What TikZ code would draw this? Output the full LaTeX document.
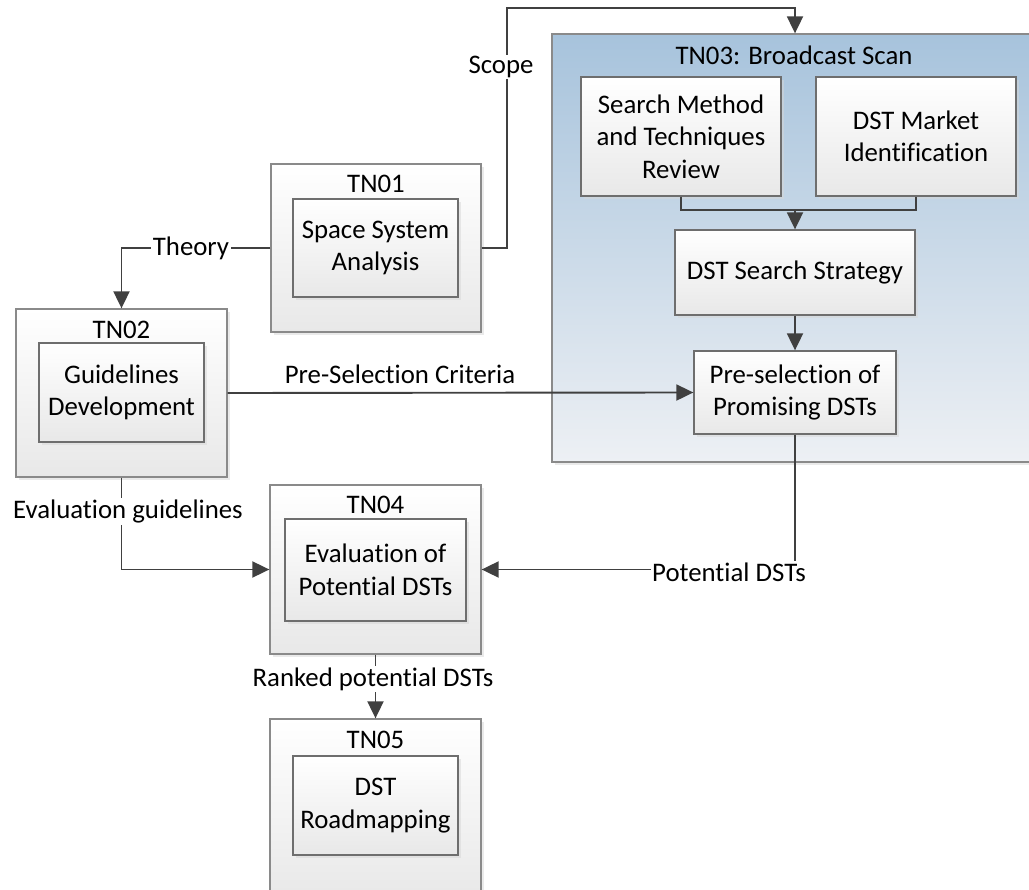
\documentclass[tikz,border=0pt]{standalone}
\usepackage{fontspec}
\setmainfont{Carlito}[Ligatures={NoCommon}]
\usetikzlibrary{arrows.meta,shadows}
\definecolor{lnc}{HTML}{404040}
\definecolor{bdr}{HTML}{8A8A8A}
\definecolor{ibdr}{HTML}{6E6E6E}
\definecolor{bluetop}{HTML}{A7C3DC}
\definecolor{bluebot}{HTML}{EDF0F4}
\begin{document}
\begin{tikzpicture}[x=1pt,y=-1pt,
  font=\fontsize{26.8}{32.5}\selectfont,
  shbox/.style={inner sep=0pt, align=center, top color=white, bottom color=black!9,
    drop shadow={shadow xshift=3pt,shadow yshift=-3pt,fill=black!16}},
  outerbox/.style={shbox, draw=bdr, line width=1.3pt},
  innerbox/.style={shbox, draw=ibdr, line width=1.3pt},
  container/.style={draw=bdr, line width=1.3pt, top color=bluetop, bottom color=bluebot, inner sep=0pt,
    drop shadow={shadow xshift=3pt,shadow yshift=-3pt,fill=black!16}},
  ttl/.style={inner sep=0pt},
  conn/.style={draw=lnc, line width=1.9pt},
  arr/.style={conn, -{Triangle[length=17pt,width=16pt]}},
  lbl/.style={fill=white, inner sep=1.5pt}]
\useasboundingbox (0,0) rectangle (1029,890);
\clip (0,0) rectangle (1029,890);

% TN03 container
\node[container, minimum width=490pt, minimum height=428pt] (tn03) at (797,248) {};
\node[ttl] (tn03t) at (794,55) {TN03: Broadcast Scan};
\node[innerbox, minimum width=200pt, minimum height=119pt] (search) at (681,136.5) {Search Method\\and Techniques\\Review};
\node[innerbox, minimum width=200pt, minimum height=119pt] (market) at (916,136.5) {DST Market\\Identification};
\node[innerbox, minimum width=240pt, minimum height=85pt] (strategy) at (795,272.5) {DST Search Strategy};
\node[innerbox, minimum width=202pt, minimum height=83pt] (presel) at (795,392.5) {Pre-selection of\\Promising DSTs};

% TN01
\node[outerbox, minimum width=210pt, minimum height=168pt] (tn01) at (376,248) {};
\node[ttl] (tn01t) at (376,184) {TN01};
\node[innerbox, minimum width=165pt, minimum height=98pt] (tn01i) at (375.5,248) {Space System\\Analysis};

% TN02
\node[outerbox, minimum width=211pt, minimum height=168pt] (tn02) at (121.5,393) {};
\node[ttl] (tn02t) at (121.5,330) {TN02};
\node[innerbox, minimum width=165pt, minimum height=99pt] (tn02i) at (121.5,392.5) {Guidelines\\Development};

% TN04
\node[outerbox, minimum width=211pt, minimum height=169pt] (tn04) at (375.5,569.5) {};
\node[ttl] (tn04t) at (375.5,505) {TN04};
\node[innerbox, minimum width=181pt, minimum height=102pt] (tn04i) at (375.5,570) {Evaluation of\\Potential DSTs};

% TN05
\node[outerbox, minimum width=211pt, minimum height=180pt] (tn05) at (375.5,809) {};
\node[ttl] (tn05t) at (375.5,740) {TN05};
\node[innerbox, minimum width=165pt, minimum height=99pt] (tn05i) at (375.5,805.5) {DST\\Roadmapping};

% connectors
\coordinate (scopeX) at (507,8);
\coordinate (junc) at (795,210);
\draw[arr] (tn01.east) -| (scopeX) -| (tn03.north -| strategy.north);
\node[lbl] (lscope) at (501,67) {Scope};

\draw[arr] (tn01.west) -| (tn02.north);
\node[lbl] (ltheory) at (191,248) {Theory};

\draw[conn] (search.south) |- (junc) -| (market.south);
\draw[arr] (junc) -- (strategy.north);
\draw[arr] (strategy.south) -- (presel.north);

\draw[arr] (tn02.east) -- (presel.west);
\node[lbl] (lcrit) at (400,374) {Pre-Selection Criteria};

\draw[arr] (presel.south) |- (tn04.east);
\node[lbl] (lpot) at (729,572) {Potential DSTs};

\draw[arr] (tn02.south) |- (tn04.west);
\node[lbl] (leval) at (128,511.5) {Evaluation guidelines};

\draw[arr] (tn04.south) -- (tn05.north);
\node[lbl] (lrank) at (373,679) {Ranked potential DSTs};
\end{tikzpicture}
\end{document}
